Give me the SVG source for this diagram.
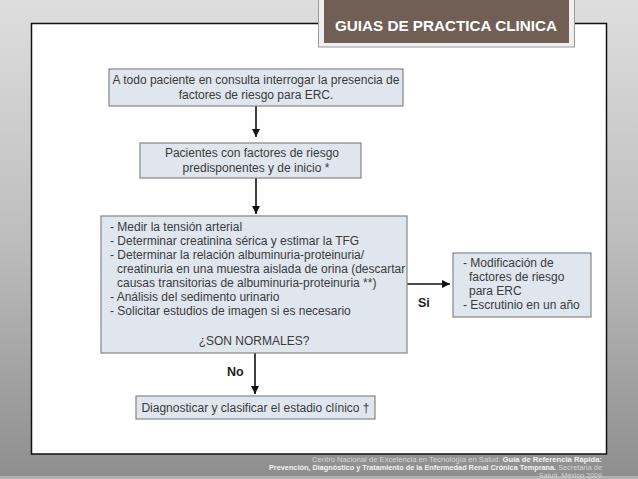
<svg xmlns="http://www.w3.org/2000/svg" width="638" height="479" viewBox="0 0 638 479">
  <defs>
    <linearGradient id="bg" x1="0" y1="0" x2="0" y2="1">
      <stop offset="0" stop-color="#dedede"/>
      <stop offset="0.5" stop-color="#bdbdbd"/>
      <stop offset="1" stop-color="#8e8e8e"/>
    </linearGradient>
    <marker id="arr" viewBox="0 0 10 10" refX="10" refY="5" markerUnits="userSpaceOnUse" markerWidth="9" markerHeight="8" orient="auto">
      <path d="M0,0 L10,5 L0,10 Z" fill="#111"/>
    </marker>
    <style>
      .box { fill: #e0e6ee; stroke: #858585; stroke-width: 1.2; }
      .t { font-family: "Liberation Sans", Arial, sans-serif; font-size: 12px; fill: #3a3a3a; }
      .c { text-anchor: middle; }
      .lbl { font-family: "Liberation Sans", Arial, sans-serif; font-size: 12.5px; font-weight: bold; fill: #222; }
      .conn { stroke: #111; stroke-width: 1.6; fill: none; marker-end: url(#arr); }
      .foot { font-family: "Liberation Sans", Arial, sans-serif; font-size: 7.2px; fill: #d4d4d4; text-anchor: end; }
      .fb { font-weight: bold; fill: #f2f2f2; }
    </style>
  </defs>

  <rect x="0" y="0" width="638" height="479" fill="url(#bg)"/>
  <rect x="0" y="476" width="638" height="3" fill="#b0b0b0"/>

  <g id="frame">
    <rect x="31.5" y="23.5" width="575" height="430.5" fill="#ffffff" stroke="#111" stroke-width="1.5"/>
  </g>

  <g id="title">
    <rect x="318.5" y="-2" width="256" height="49" fill="#efefef" stroke="#9a9a9a" stroke-width="1"/>
    <rect x="324" y="-2" width="245" height="45" fill="#715f55"/>
    <text x="446" y="31" text-anchor="middle" font-family="Liberation Sans, Arial, sans-serif" font-size="15" font-weight="bold" fill="#ffffff" textLength="222" lengthAdjust="spacingAndGlyphs">GUIAS DE PRACTICA CLINICA</text>
  </g>

  <g id="connectors">
    <line class="conn" x1="256" y1="106" x2="256" y2="137"/>
    <line class="conn" x1="256" y1="178" x2="256" y2="214"/>
    <line class="conn" x1="407" y1="284" x2="450" y2="284"/>
    <line class="conn" x1="255" y1="353" x2="255" y2="394"/>
    <text class="lbl" x="418" y="307">Si</text>
    <text class="lbl" x="227" y="376">No</text>
  </g>

  <g id="node1">
    <rect class="box" x="109" y="69" width="294" height="37"/>
    <text class="t c" x="256" y="84">A todo paciente en consulta interrogar la presencia de</text>
    <text class="t c" x="256" y="99">factores de riesgo para ERC.</text>
  </g>

  <g id="node2">
    <rect class="box" x="140" y="143" width="221" height="35"/>
    <text class="t c" x="252" y="157">Pacientes con factores de riesgo</text>
    <text class="t c" x="256" y="172">predisponentes y de inicio *</text>
  </g>

  <g id="node3">
    <rect class="box" x="101" y="216" width="306" height="137"/>
    <text class="t" x="110" y="231">- Medir la tensión arterial</text>
    <text class="t" x="110" y="245">- Determinar creatinina sérica y estimar la TFG</text>
    <text class="t" x="110" y="259">- Determinar la relación albuminuria-proteinuria/</text>
    <text class="t" x="117" y="273">creatinuria en una muestra aislada de orina (descartar</text>
    <text class="t" x="117" y="287">causas transitorias de albuminuria-proteinuria **)</text>
    <text class="t" x="110" y="301">- Análisis del sedimento urinario</text>
    <text class="t" x="110" y="315">- Solicitar estudios de imagen si es necesario</text>
    <text class="t c" x="254" y="345">¿SON NORMALES?</text>
  </g>

  <g id="node4">
    <rect class="box" x="453" y="253" width="138" height="64"/>
    <text class="t" x="463" y="267">- Modificación de</text>
    <text class="t" x="469" y="281">factores de riesgo</text>
    <text class="t" x="469" y="295">para ERC</text>
    <text class="t" x="463" y="309">- Escrutinio en un año</text>
  </g>

  <g id="node5">
    <rect class="box" x="136" y="396" width="239" height="23"/>
    <text class="t c" x="255.5" y="412">Diagnosticar y clasificar el estadio clínico †</text>
  </g>

  <g id="footer">
    <text class="foot" x="602" y="462" textLength="290" lengthAdjust="spacingAndGlyphs">Centro Nacional de Excelencia en Tecnología en Salud. <tspan class="fb">Guía de Referencia Rápida:</tspan></text>
    <text class="foot" x="602" y="470" textLength="333" lengthAdjust="spacingAndGlyphs"><tspan class="fb">Prevención, Diagnóstico y Tratamiento de la Enfermedad Renal Crónica Temprana.</tspan> Secretaría de</text>
    <text class="foot" x="602" y="478" font-size="5.2px">Salud, México 2009</text>
  </g>
</svg>
